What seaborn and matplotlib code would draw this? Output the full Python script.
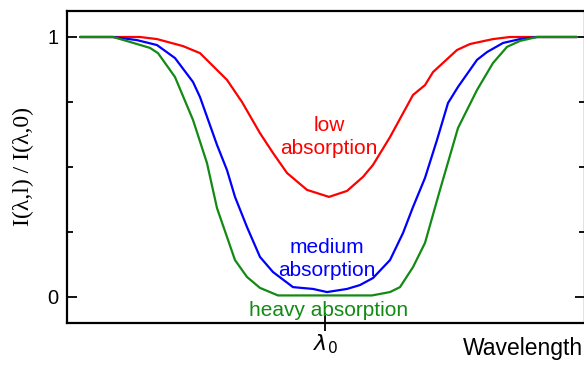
import matplotlib
matplotlib.use("Agg")
import matplotlib.pyplot as plt
import seaborn as sns
from matplotlib.ticker import FixedLocator

# Data (wavelength offset from lambda_0, arbitrary units; normalized intensity)
low_x = [-2.45, -1.85, -1.68, -1.42, -1.25, -0.98, -0.83, -0.65, -0.52, -0.38, -0.18, 0.04,
         0.22, 0.38, 0.48, 0.65, 0.88, 1.00, 1.08, 1.32, 1.45, 1.68, 1.85, 2.52]
low_y = [1.0, 1.0, 0.992, 0.965, 0.938, 0.835, 0.75, 0.63, 0.554, 0.477, 0.412, 0.385,
         0.408, 0.462, 0.508, 0.615, 0.777, 0.815, 0.865, 0.95, 0.973, 0.992, 1.0, 1.0]

med_x = [-2.45, -2.12, -1.88, -1.68, -1.50, -1.32, -1.25, -1.08, -0.98, -0.90, -0.78, -0.65,
         -0.52, -0.32, -0.12, 0.02, 0.22, 0.35, 0.48, 0.65, 0.78, 0.88, 1.00, 1.12, 1.23,
         1.33, 1.52, 1.62, 1.78, 1.95, 2.12, 2.52]
med_y = [1.0, 1.0, 0.988, 0.969, 0.919, 0.827, 0.769, 0.585, 0.488, 0.385, 0.269, 0.154,
         0.096, 0.038, 0.031, 0.019, 0.031, 0.046, 0.073, 0.142, 0.246, 0.346, 0.458, 0.604,
         0.746, 0.808, 0.912, 0.942, 0.977, 0.992, 1.0, 1.0]

heavy_x = [-2.45, -2.12, -1.95, -1.75, -1.67, -1.50, -1.32, -1.18, -1.08, -0.90, -0.78, -0.65,
           -0.47, 0.47, 0.65, 0.75, 0.88, 1.00, 1.15, 1.33, 1.52, 1.68, 1.82, 1.95, 2.12, 2.52]
heavy_y = [1.0, 1.0, 0.981, 0.958, 0.938, 0.846, 0.681, 0.515, 0.342, 0.142, 0.077, 0.035,
           0.006, 0.006, 0.019, 0.038, 0.115, 0.208, 0.412, 0.65, 0.796, 0.9, 0.962, 0.985, 1.0, 1.0]

y_ticks = [0, 1]
y_tick_labels = ["0", "1"]
y_minor = [0.25, 0.5, 0.75]
x_ticks = [0]
x_tick_labels = [r"$\lambda_0$"]

sns.set_style("ticks")
plt.rcParams["font.family"] = ["Liberation Sans", "DejaVu Sans"]

fig = plt.figure(figsize=(5.84, 3.65), dpi=100)
W, H = 584, 365
ax = fig.add_axes([67 / W, 1 - 323 / H, (585 - 67) / W, (323 - 11) / H])

sns.lineplot(x=low_x, y=low_y, color="#ff0000", lw=1.6, ax=ax)
sns.lineplot(x=med_x, y=med_y, color="#0000ff", lw=1.6, ax=ax)
sns.lineplot(x=heavy_x, y=heavy_y, color="#138a13", lw=1.6, ax=ax)

ax.set_xlim(-2.58, 2.60)
ax.set_ylim(-0.1, 1.1)

for s in ax.spines.values():
    s.set_linewidth(1.6)
    s.set_color("black")

ax.set_yticks(y_ticks)
ax.set_yticklabels(y_tick_labels, fontsize=14.5)
ax.yaxis.set_minor_locator(FixedLocator(y_minor))
ax.tick_params(axis="y", which="major", direction="in", length=7, width=1.3,
               left=True, right=True, pad=6, colors="black")
ax.tick_params(axis="y", which="minor", direction="in", length=4, width=1.3,
               left=True, right=True, colors="black")

ax.set_xticks(x_ticks)
ax.set_xticklabels(x_tick_labels, fontsize=16)
ax.tick_params(axis="x", which="major", direction="inout", length=11, width=1.3, pad=1,
               colors="black")

ax.set_ylabel("I(λ,l) / I(λ,0)", family=["Liberation Serif", "DejaVu Serif"], fontsize=17,
              labelpad=10, color="black")
ax.set_xlabel("")

fig.text(0.999, 1 - 349 / H, "Wavelength", ha="right", va="center", fontsize=16.5, color="black")

fs = 15
ax.text(0.04, 0.66, "low", color="#ff0000", ha="center", va="center", fontsize=fs)
ax.text(0.04, 0.57, "absorption", color="#ff0000", ha="center", va="center", fontsize=fs)
ax.text(0.02, 0.19, "medium", color="#0000ff", ha="center", va="center", fontsize=fs)
ax.text(0.02, 0.10, "absorption", color="#0000ff", ha="center", va="center", fontsize=fs)
ax.text(0.04, -0.05, "heavy absorption", color="#138a13", ha="center", va="center", fontsize=fs)

fig.savefig("out.png", dpi=100)
